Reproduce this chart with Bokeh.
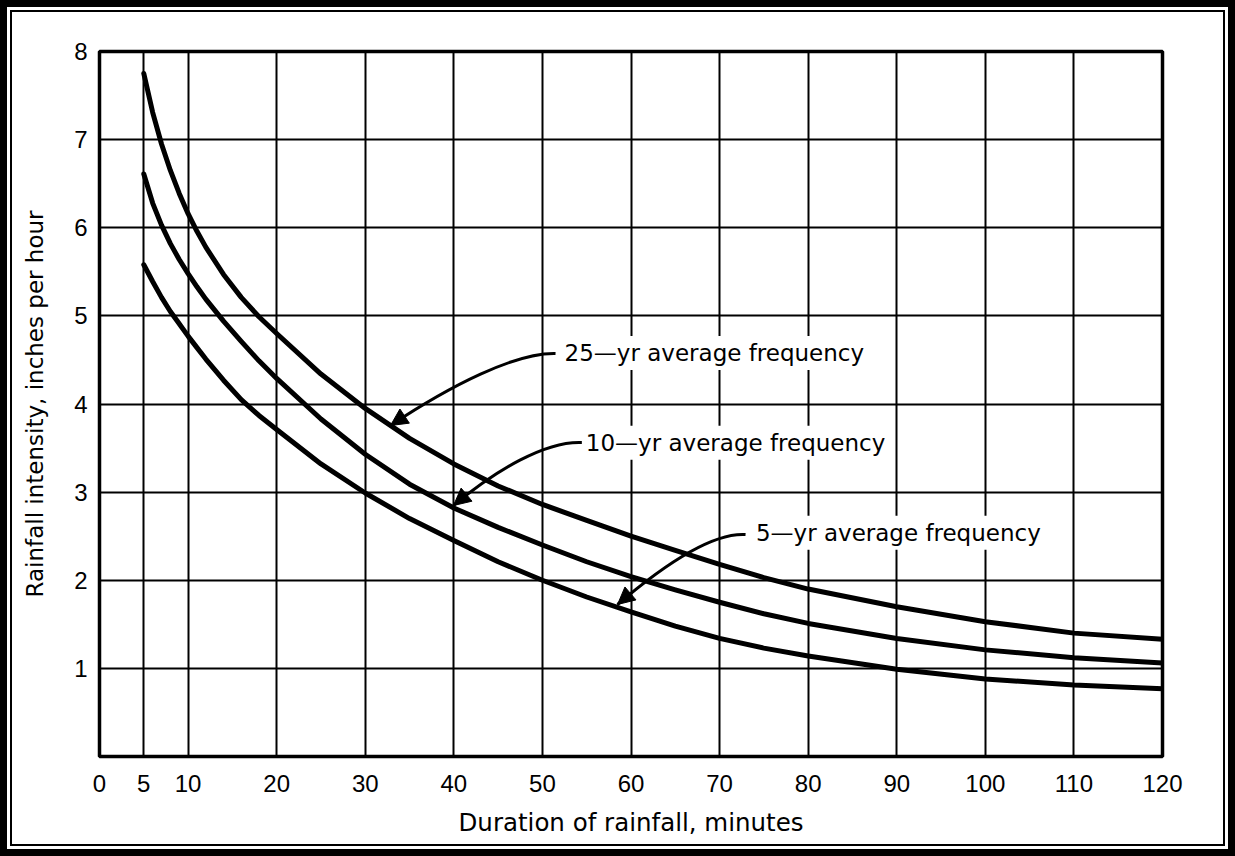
from bokeh.plotting import figure
from bokeh.models import Range1d, FixedTicker, Label, Arrow, NormalHead
from bokeh.embed import file_html
from bokeh.resources import INLINE

# ---------------- data ----------------
duration_min = [5, 6, 7, 8, 9, 10, 11, 12, 14, 16, 18, 20, 25, 30, 35, 40, 45, 50, 55, 60,
                65, 70, 75, 80, 90, 100, 110, 120]
intensity_25yr = [7.75, 7.31, 6.95, 6.65, 6.39, 6.16, 5.96, 5.78, 5.47, 5.21, 4.99, 4.80, 4.34, 3.95, 3.61, 3.32,
                  3.07, 2.86, 2.68, 2.50, 2.34, 2.18, 2.03, 1.90, 1.70, 1.53, 1.40, 1.33]
intensity_10yr = [6.61, 6.28, 6.03, 5.82, 5.64, 5.48, 5.33, 5.19, 4.94, 4.71, 4.49, 4.29, 3.83, 3.43, 3.09, 2.82,
                  2.60, 2.40, 2.21, 2.04, 1.89, 1.75, 1.62, 1.51, 1.34, 1.21, 1.12, 1.06]
intensity_5yr = [5.58, 5.39, 5.21, 5.05, 4.91, 4.77, 4.64, 4.51, 4.27, 4.05, 3.87, 3.71, 3.32, 2.99, 2.70, 2.45,
                 2.21, 2.00, 1.81, 1.64, 1.48, 1.34, 1.23, 1.14, 0.99, 0.88, 0.81, 0.77]

x_tick_values = [0, 5, 10, 20, 30, 40, 50, 60, 70, 80, 90, 100, 110, 120]
x_grid_values = [5, 10, 20, 30, 40, 50, 60, 70, 80, 90, 100, 110]
y_tick_values = [1, 2, 3, 4, 5, 6, 7, 8]
y_grid_values = [1, 2, 3, 4, 5, 6, 7]

series_labels = ["25\u2014yr average frequency", "10\u2014yr average frequency", "5\u2014yr average frequency"]
x_title = "Duration of rainfall, minutes"
y_title = "Rainfall intensity, inches per hour"

# ---------------- annotation placement (data coordinates) ----------------
label_x = [52.05, 54.45, 73.65]
label_y = [4.58, 3.56, 2.54]
# cubic bezier leader lines: start, control 1, control 2, tip
arrow_x0 = [51.48, 54.53, 72.93]
arrow_y0 = [4.573, 3.563, 2.519]
arrow_cx0 = [46.96, 50.35, 69.20]
arrow_cy0 = [4.584, 3.586, 2.542]
arrow_cx1 = [39.63, 44.71, 63.90]
arrow_cy1 = [4.210, 3.245, 2.190]
arrow_x1 = [32.85, 39.96, 58.48]
arrow_y1 = [3.756, 2.848, 1.725]

W, H = 1211, 832

p = figure(width=W, height=H, output_backend="svg", toolbar_location=None,
           x_range=Range1d(0, 120), y_range=Range1d(0, 8),
           min_border_left=87, min_border_right=61, min_border_top=39, min_border_bottom=88)
p.background_fill_color = "white"
p.border_fill_color = "white"
p.outline_line_color = "black"
p.outline_line_width = 3.5
# page frame: thick outer rule + thin inner rule
p.styles = {"margin": "12px", "box-shadow": "0 0 0 2px black",
            "outline": "7px solid black", "outline-offset": "5px"}

# grid
p.xgrid.ticker = FixedTicker(ticks=x_grid_values)
p.ygrid.ticker = FixedTicker(ticks=y_grid_values)
for g in (p.xgrid, p.ygrid):
    g.grid_line_color = "black"
    g.grid_line_width = 2
    g.grid_line_alpha = 1.0

# axes
p.xaxis.ticker = FixedTicker(ticks=x_tick_values)
p.yaxis.ticker = FixedTicker(ticks=y_tick_values)
for ax in (p.xaxis, p.yaxis):
    ax.axis_line_color = None
    ax.major_tick_line_color = None
    ax.minor_tick_line_color = None
    ax.major_tick_out = 0
    ax.major_tick_in = 0
    ax.major_label_text_font = "Liberation Sans"
    ax.major_label_text_font_size = "24px"
    ax.major_label_text_color = "black"
    ax.axis_label_text_font = "DejaVu Sans"
    ax.axis_label_text_font_style = "normal"
    ax.axis_label_text_color = "black"
p.xaxis.major_label_standoff = 18
p.yaxis.major_label_standoff = 12
p.xaxis.axis_label = x_title
p.xaxis.axis_label_text_font_size = "24.5px"
p.xaxis.axis_label_standoff = 13
p.yaxis.axis_label = y_title
p.yaxis.axis_label_text_font_size = "23px"
p.yaxis.axis_label_standoff = 23

# curves
for ys in (intensity_25yr, intensity_10yr, intensity_5yr):
    p.line(duration_min, ys, line_color="black", line_width=5, line_cap="round", line_join="round")

# leader lines with arrow heads
p.bezier(x0=arrow_x0, y0=arrow_y0, x1=arrow_x1, y1=arrow_y1,
         cx0=arrow_cx0, cy0=arrow_cy0, cx1=arrow_cx1, cy1=arrow_cy1,
         line_color="black", line_width=3)
for i in range(3):
    p.add_layout(Arrow(x_start=arrow_cx1[i], y_start=arrow_cy1[i], x_end=arrow_x1[i], y_end=arrow_y1[i],
                       line_alpha=0,
                       end=NormalHead(size=17, fill_color="black", line_color="black", line_width=1)))
    p.add_layout(Label(x=label_x[i], y=label_y[i], text=series_labels[i], text_align="left",
                       text_baseline="middle", text_font="DejaVu Sans", text_font_size="23px",
                       text_color="black", background_fill_color="white", padding=4))

open("out.html", "w").write(file_html(p, INLINE))
